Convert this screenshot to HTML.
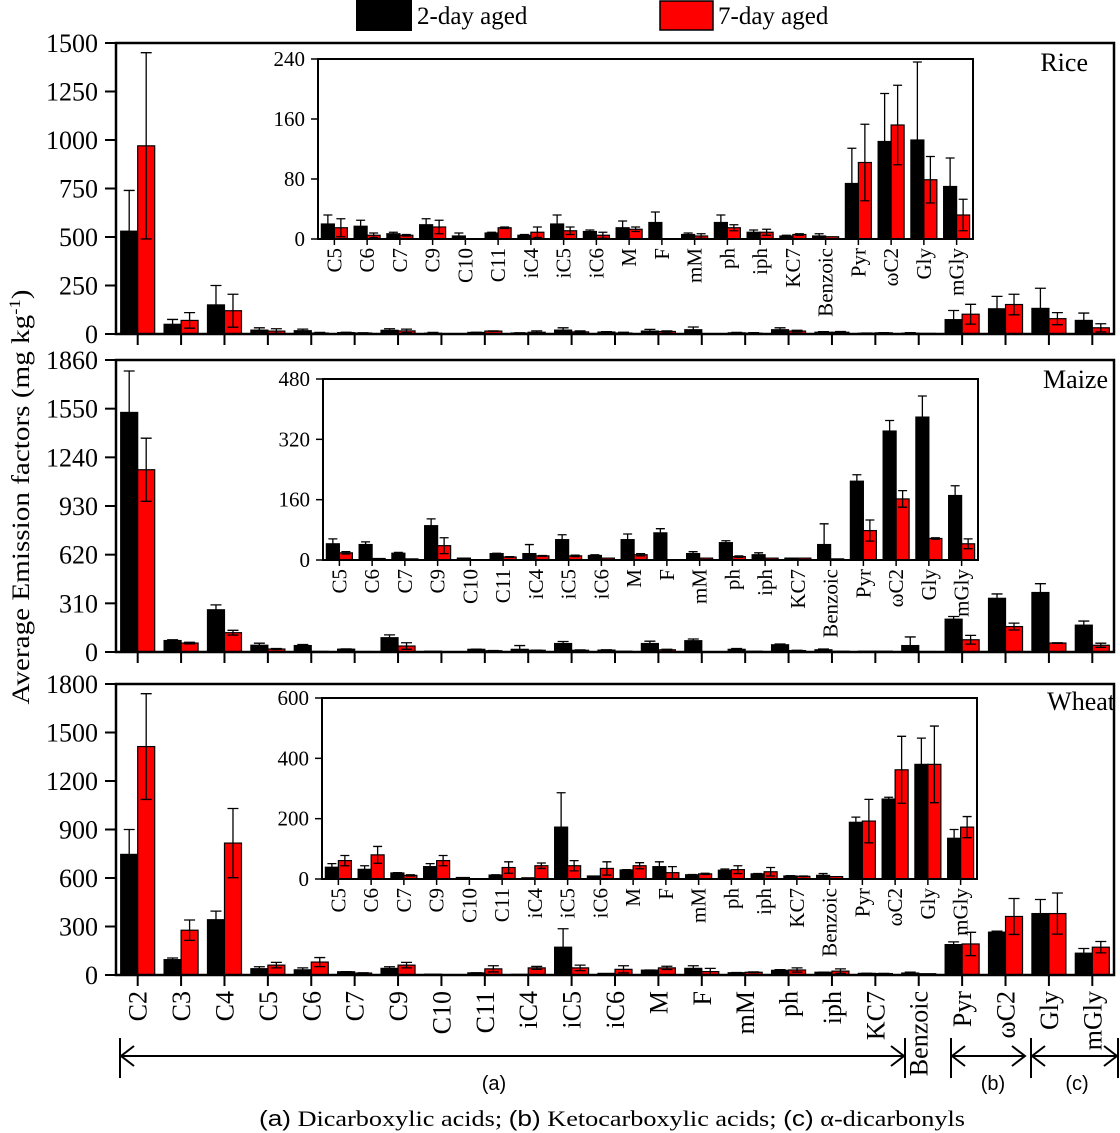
<!DOCTYPE html>
<html>
<head>
<meta charset="utf-8">
<style>
html,body{margin:0;padding:0;background:#fff;}
svg{display:block;}
text{font-family:"Liberation Serif","Times New Roman",Tinos,"Nimbus Roman",serif;fill:#000;}
.sans{font-family:"Liberation Sans",Arimo,sans-serif;}
</style>
</head>
<body>
<svg id="chart" width="1120" height="1133" viewBox="0 0 1120 1133" xmlns="http://www.w3.org/2000/svg" font-family="Liberation Serif, Times New Roman, serif">
  <g>
    <rect x="356" y="0" width="56" height="31" fill="#000"/>
    <text x="417" y="24" font-size="25">2-day aged</text>
    <rect x="660" y="1" width="53" height="29" fill="#ff0000" stroke="#000" stroke-width="1.5"/>
    <text x="718" y="24" font-size="25">7-day aged</text>
  </g>
  <text transform="translate(29,497) rotate(-90)" text-anchor="middle" font-size="25" textLength="415" lengthAdjust="spacingAndGlyphs">Average Emission factors (mg kg<tspan dy="-9" font-size="16">-1</tspan><tspan dy="9">)</tspan></text>
  <g id="panels"></g>
  <g stroke="#000" stroke-width="2" fill="none">
    <line x1="120" y1="1038" x2="120" y2="1078"/>
    <line x1="905" y1="1038" x2="905" y2="1078"/>
    <line x1="121" y1="1056" x2="904" y2="1056"/>
    <polyline points="134,1046 121,1056 134,1066"/>
    <polyline points="891,1046 904,1056 891,1066"/>
    <line x1="951" y1="1038" x2="951" y2="1078"/>
    <line x1="1031" y1="1038" x2="1031" y2="1078"/>
    <line x1="952" y1="1056" x2="1025" y2="1056"/>
    <polyline points="965,1046 952,1056 965,1066"/>
    <polyline points="1012,1046 1025,1056 1012,1066"/>
    <line x1="1118" y1="1038" x2="1118" y2="1078"/>
    <line x1="1032" y1="1056" x2="1117" y2="1056"/>
    <polyline points="1045,1046 1032,1056 1045,1066"/>
    <polyline points="1104,1046 1117,1056 1104,1066"/>
  </g>
  <text class="sans" x="494" y="1090" text-anchor="middle" font-size="20">(a)</text>
  <text class="sans" x="993" y="1090" text-anchor="middle" font-size="20">(b)</text>
  <text class="sans" x="1077" y="1090" text-anchor="middle" font-size="20">(c)</text>
  <text x="259" y="1126" font-size="22" textLength="706" lengthAdjust="spacingAndGlyphs"><tspan class="sans">(a)</tspan> Dicarboxylic acids; <tspan class="sans">(b)</tspan> Ketocarboxylic acids; <tspan class="sans">(c)</tspan> α-dicarbonyls</text>
</svg>
<script>
const categories = ["C2","C3","C4","C5","C6","C7","C9","C10","C11","iC4","iC5","iC6","M","F","mM","ph","iph","KC7","Benzoic","Pyr","ωC2","Gly","mGly"];

const riceAged2    = [530,50,150,20,17,7,19,4,8,5,20,10,15,22,6,22,9,4,4,74,130,132,70];
const riceAged2Err = [210,25,100,12,8,2,8,4,1,1,12,2,9,14,2,10,3,1,3,47,64,104,38];
const riceAged7    = [970,70,120,15,5,5,16,0,15,9,11,5,13,0,4,15,9,6,3,102,152,79,32];
const riceAged7Err = [480,40,85,12,3,1,9,0,1,7,5,4,3,0,3,4,4,1,0,51,53,31,21];

const maizeAged2    = [1526,73,269,43,41,18,91,5,17,17,54,12,54,72,17,46,14,5,41,209,342,379,171];
const maizeAged2Err = [264,5,31,13,7,2,18,0,1,24,13,2,15,11,5,5,5,0,55,17,28,56,26];
const maizeAged7    = [1161,57,123,19,4,3,38,0,8,11,11,5,14,0,5,9,5,5,3,78,162,57,43];
const maizeAged7Err = [201,5,15,3,0,0,21,0,1,1,2,0,3,0,0,2,0,0,0,28,22,2,13];

const wheatAged2    = [746,95,342,39,32,20,41,5,13,4,172,10,30,41,14,29,17,10,12,188,265,380,135];
const wheatAged2Err = [154,10,53,12,12,1,10,0,1,0,114,0,1,16,1,4,1,1,6,17,6,87,29];
const wheatAged7    = [1413,277,816,61,80,12,61,0,38,44,44,35,44,21,17,31,24,9,8,192,362,380,172];
const wheatAged7Err = [327,63,214,17,28,2,17,0,19,9,17,22,10,20,2,13,14,1,0,72,111,127,35];

const riceYTicks  = [0,250,500,750,1000,1250,1500];
const maizeYTicks = [0,310,620,930,1240,1550,1860];
const wheatYTicks = [0,300,600,900,1200,1500,1800];
const riceInsetTicks  = [0,80,160,240];
const maizeInsetTicks = [0,160,320,480];
const wheatInsetTicks = [0,200,400,600];

const NS = "http://www.w3.org/2000/svg";
const INSET_START = 3;

function mk(tag, attrs, parent){
  const e = document.createElementNS(NS, tag);
  for (const k in attrs) e.setAttribute(k, attrs[k]);
  if (parent) parent.appendChild(e);
  return e;
}

const panelDefs = [
  {key:"rice", label:"Rice", a2:riceAged2, e2:riceAged2Err, a7:riceAged7, e7:riceAged7Err, ticks:riceYTicks, iticks:riceInsetTicks,
   top:43, bottom:334, labelX:1088, labelY:71, inset:{x0:318,x1:973,top:59,bottom:239}, xlabels:false},
  {key:"maize", label:"Maize", a2:maizeAged2, e2:maizeAged2Err, a7:maizeAged7, e7:maizeAged7Err, ticks:maizeYTicks, iticks:maizeInsetTicks,
   top:360, bottom:652, labelX:1108, labelY:388, inset:{x0:323,x1:978,top:379,bottom:560}, xlabels:false},
  {key:"wheat", label:"Wheat", a2:wheatAged2, e2:wheatAged2Err, a7:wheatAged7, e7:wheatAged7Err, ticks:wheatYTicks, iticks:wheatInsetTicks,
   top:684, bottom:975, labelX:1115, labelY:710, inset:{x0:322,x1:977,top:698,bottom:879}, xlabels:true}
];

const root = document.getElementById("panels");

function drawBars(g, cats, start, a2, e2, a7, e7, xc, yv, bw, cap, prefix){
  const barsG = mk("g", {}, g);
  
  
  const errG = mk("g", {stroke:"#000","stroke-width":1.3,fill:"none"}, g);
  
  
  for (let i = start; i < cats.length; i++){
    const c = xc(i - start);
    const series = [[a2[i], e2[i], c - bw, "#000", "2-day"], [a7[i], e7[i], c, "#ff0000", "7-day"]];
    series.forEach(s => {
      const v = s[0], e = s[1];
      const y0 = yv(0), y1 = yv(v);
      if (v > 0){
        const r = mk("rect", {x:s[2], y:y1, width:bw, height:Math.max(0.8, y0 - y1), fill:s[3], stroke:"#000","stroke-width":1.2}, barsG);
        
        
      }
      if (e > 0){
        const cx = s[2] + bw / 2;
        const yt = yv(v + e), yb = yv(Math.max(0, v - e));
        const l = mk("path", {d:`M${cx},${yb}V${yt}M${cx-cap/2},${yt}H${cx+cap/2}M${cx-cap/2},${yb}H${cx+cap/2}`}, errG);
        
        
      }
    });
  }
}

panelDefs.forEach(p => {
  const g = mk("g", {}, root);
  
  
  const x0 = 116, x1 = 1114, cw = (x1 - x0) / categories.length;
  const maxV = p.ticks[p.ticks.length - 1];
  const yv = v => p.bottom - v / maxV * (p.bottom - p.top);
  const xc = i => x0 + cw * (i + 0.5);

  drawBars(g, categories, 0, p.a2, p.e2, p.a7, p.e7, xc, yv, 17, 11, p.key);

  const fr = mk("rect", {x:x0, y:p.top, width:x1 - x0, height:p.bottom - p.top, fill:"none", stroke:"#000","stroke-width":2.5}, g);
  
  

  const yt = mk("g", {}, g);
  
  
  p.ticks.forEach(t => {
    const y = yv(t);
    mk("line", {x1:x0 - 11, x2:x0, y1:y, y2:y, stroke:"#000","stroke-width":2}, yt);
    const tx = mk("text", {x:98, y:y + 9, "text-anchor":"end","font-size":26}, yt);
    tx.textContent = t;
    
    
  });

  const xt = mk("g", {}, g);
  
  
  categories.forEach((c, i) => {
    const x = xc(i);
    mk("line", {x1:x, x2:x, y1:p.bottom, y2:p.bottom + 11, stroke:"#000","stroke-width":2}, xt);
    if (p.xlabels){
      const tx = mk("text", {transform:`translate(${x + 9},991) rotate(-90)`, "text-anchor":"end","font-size":26}, xt);
      tx.textContent = c;
      
      
    }
  });

  const pl = mk("text", {x:p.labelX, y:p.labelY, "text-anchor":"end","font-size":26}, g);
  pl.textContent = p.label;
  
  

  const ins = p.inset;
  const ig = mk("g", {}, g);
  
  
  const icats = categories.slice(INSET_START);
  const icw = (ins.x1 - ins.x0) / icats.length;
  const imax = p.iticks[p.iticks.length - 1];
  const iyv = v => ins.bottom - v / imax * (ins.bottom - ins.top);
  const ixc = i => ins.x0 + icw * (i + 0.5);
  drawBars(ig, categories, INSET_START, p.a2, p.e2, p.a7, p.e7, ixc, iyv, 13, 9, p.key + '-inset');
  const ifr = mk("rect", {x:ins.x0, y:ins.top, width:ins.x1 - ins.x0, height:ins.bottom - ins.top, fill:"none", stroke:"#000","stroke-width":2}, ig);
  
  
  p.iticks.forEach(t => {
    const y = iyv(t);
    mk("line", {x1:ins.x0 - 7, x2:ins.x0, y1:y, y2:y, stroke:"#000","stroke-width":1.5}, ig);
    const tx = mk("text", {x:ins.x0 - 13, y:y + 7, "text-anchor":"end","font-size":21}, ig);
    tx.textContent = t;
    
    
  });
  icats.forEach((c, i) => {
    const x = ixc(i);
    mk("line", {x1:x, x2:x, y1:ins.bottom, y2:ins.bottom + 6, stroke:"#000","stroke-width":1.5}, ig);
    const tx = mk("text", {transform:`translate(${x + 7},${ins.bottom + 9}) rotate(-90)`, "text-anchor":"end","font-size":21}, ig);
    tx.textContent = c;
    
    
  });
});
</script>
</body>
</html>
